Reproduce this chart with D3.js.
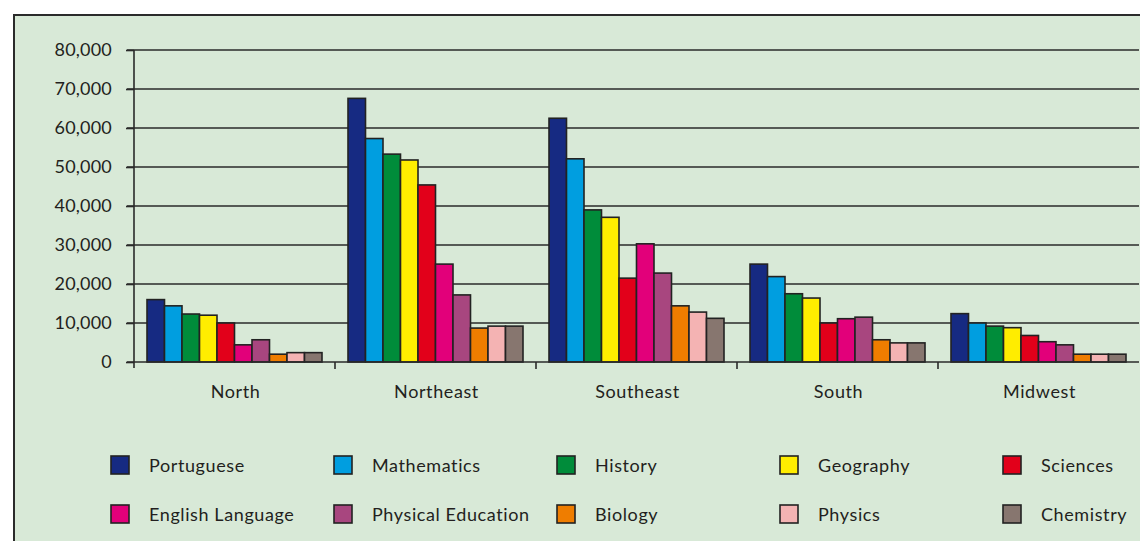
<!DOCTYPE html>
<html>
<head>
<meta charset="utf-8">
<script src="https://cdn.jsdelivr.net/npm/d3@7"></script>
<style>
  html, body { margin: 0; padding: 0; background: #ffffff; }
  svg { display: block; }
  text { font-family: Lato, "Open Sans", sans-serif; fill: #231f20; }
</style>
</head>
<body>
<svg id="chart" width="1140" height="541"></svg>
<script>
// Regions along the x axis
const regions = ["North", "Northeast", "Southeast", "South", "Midwest"];

// Subjects (series) and their fill colours
const subjects = ["Portuguese", "Mathematics", "History", "Geography", "Sciences",
                  "English Language", "Physical Education", "Biology", "Physics", "Chemistry"];
const subjectColors = ["#162a82", "#009ee0", "#008c3a", "#ffed00", "#e2001a",
                       "#e2007a", "#a8467f", "#ef7d00", "#f4b3b3", "#87766f"];

// Teachers per subject, one array per subject, ordered by region
const portuguese        = [16000, 67600, 62500, 25100, 12400];
const mathematics       = [14400, 57300, 52100, 21900, 10000];
const history           = [12300, 53300, 39000, 17500,  9200];
const geography         = [12000, 51800, 37100, 16400,  8800];
const sciences          = [10000, 45400, 21500, 10000,  6800];
const englishLanguage   = [ 4400, 25100, 30300, 11100,  5200];
const physicalEducation = [ 5700, 17200, 22800, 11500,  4400];
const biology           = [ 2000,  8700, 14400,  5700,  2000];
const physics           = [ 2400,  9200, 12800,  4900,  2000];
const chemistry         = [ 2400,  9200, 11200,  4900,  2000];

// Y axis tick values
const yTicks = [0, 10000, 20000, 30000, 40000, 50000, 60000, 70000, 80000];

const seriesValues = [portuguese, mathematics, history, geography, sciences,
                      englishLanguage, physicalEducation, biology, physics, chemistry];

const svg = d3.select("#chart");

// Panel background with its frame
svg.append("rect")
  .attr("x", 14).attr("y", 15)
  .attr("width", 1140).attr("height", 540)
  .attr("fill", "#d8e9d7")
  .attr("stroke", "#2b2b2b").attr("stroke-width", 2);

const plot = { left: 134, right: 1139, top: 50, bottom: 362 };

const y = d3.scaleLinear().domain([0, 80000]).range([plot.bottom, plot.top]);
const x0 = d3.scaleBand().domain(regions).range([plot.left, plot.right]).padding(0);
const x1 = d3.scaleBand().domain(subjects)
  .range([13, x0.bandwidth() - 13]).padding(0);
const color = d3.scaleOrdinal().domain(subjects).range(subjectColors);

// Horizontal grid lines
svg.append("g")
  .selectAll("line")
  .data(yTicks.filter(d => d > 0))
  .join("line")
  .attr("x1", plot.left - 7).attr("x2", plot.right)
  .attr("y1", d => y(d)).attr("y2", d => y(d))
  .attr("stroke", "#2a2a2a").attr("stroke-width", 1.6);

// Y axis
const yAxis = svg.append("g")
  .attr("transform", `translate(${plot.left},0)`)
  .call(d3.axisLeft(y).tickValues(yTicks).tickSize(8).tickPadding(14)
        .tickFormat(d3.format(",")));
yAxis.select(".domain").remove();
yAxis.selectAll(".tick line").attr("stroke", "#2a2a2a").attr("stroke-width", 1.6);
yAxis.selectAll(".tick text")
  .style("font-size", "18px").style("letter-spacing", "0.2px")
  .attr("fill", "#231f20").style("font-family", "Lato, sans-serif");

svg.append("line")
  .attr("x1", plot.left).attr("x2", plot.left)
  .attr("y1", plot.top).attr("y2", plot.bottom + 6)
  .attr("stroke", "#2a2a2a").attr("stroke-width", 1.6);

// Bars
const groups = svg.append("g")
  .selectAll("g")
  .data(regions)
  .join("g")
  .attr("transform", d => `translate(${x0(d)},0)`);

groups.selectAll("rect")
  .data((r, ri) => subjects.map((s, si) => ({ subject: s, value: seriesValues[si][ri] })))
  .join("rect")
  .attr("x", d => x1(d.subject))
  .attr("y", d => y(d.value))
  .attr("width", x1.bandwidth())
  .attr("height", d => plot.bottom - y(d.value))
  .attr("fill", d => color(d.subject))
  .attr("stroke", "#222222").attr("stroke-width", 1.6);

// X axis baseline and category separators
svg.append("line")
  .attr("x1", plot.left - 7).attr("x2", plot.right)
  .attr("y1", plot.bottom).attr("y2", plot.bottom)
  .attr("stroke", "#2a2a2a").attr("stroke-width", 1.6);

svg.append("g")
  .selectAll("line")
  .data(regions.slice(1))
  .join("line")
  .attr("x1", d => x0(d)).attr("x2", d => x0(d))
  .attr("y1", plot.bottom).attr("y2", plot.bottom + 7)
  .attr("stroke", "#2a2a2a").attr("stroke-width", 1.6);

svg.append("g")
  .selectAll("text")
  .data(regions)
  .join("text")
  .attr("x", d => x0(d) + x0.bandwidth() / 2 + 1)
  .attr("y", 398)
  .attr("text-anchor", "middle")
  .style("font-size", "18px").style("letter-spacing", "0.6px")
  .text(d => d);

// Legend: two rows of five
const legend = svg.append("g")
  .selectAll("g")
  .data(subjects)
  .join("g")
  .attr("transform", (d, i) => `translate(${111 + (i % 5) * 223},${456 + Math.floor(i / 5) * 49})`);

legend.append("rect")
  .attr("width", 18).attr("height", 18)
  .attr("fill", d => color(d))
  .attr("stroke", "#222222").attr("stroke-width", 1.6);

legend.append("text")
  .attr("x", 38).attr("y", 16)
  .style("font-size", "18px").style("letter-spacing", "0.6px")
  .text(d => d);
</script>
</body>
</html>
